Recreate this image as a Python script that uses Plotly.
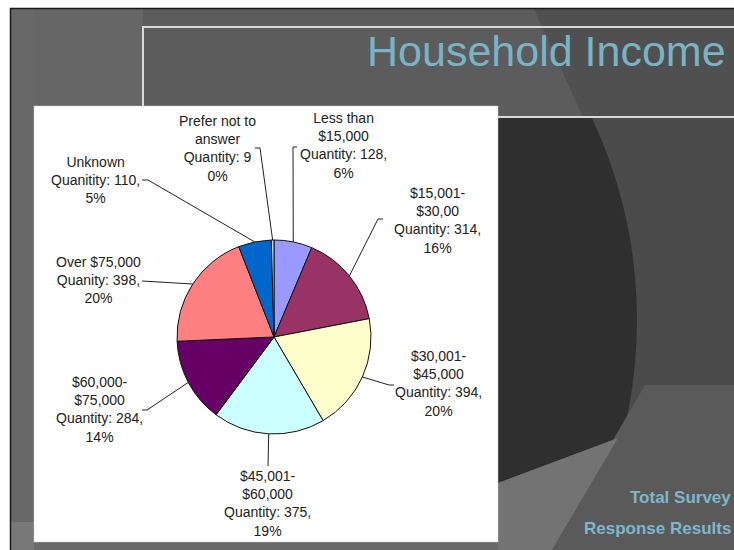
import math
import plotly.graph_objects as go

# ---------------- data ----------------
categories = [
    "Less than $15,000", "$15,001-$30,00", "$30,001-$45,000", "$45,001-$60,000",
    "$60,000-$75,000", "Over $75,000", "Unknown", "Prefer not to answer",
]
quantities = [128, 314, 394, 375, 284, 398, 110, 9]
percent_labels = ["6%", "16%", "20%", "19%", "14%", "20%", "5%", "0%"]
label_texts = [
    "Less than<br>$15,000<br>Quantity: 128,<br>6%",
    "$15,001-<br>$30,00<br>Quantity: 314,<br>16%",
    "$30,001-<br>$45,000<br>Quantity: 394,<br>20%",
    "$45,001-<br>$60,000<br>Quantity: 375,<br>19%",
    "$60,000-<br>$75,000<br>Quantity: 284,<br>14%",
    "Over $75,000<br>Quanity: 398,<br>20%",
    "Unknown<br>Quanitity: 110,<br>5%",
    "Prefer not to<br>answer<br>Quantity: 9<br>0%",
]
slice_colors = ["#9999ff", "#993366", "#ffffcc", "#ccffff",
                "#660066", "#ff8080", "#0066cc", "#ccccff"]
title_text = "Household Income"
footer_lines = ["Total Survey", "Response Results"]

# ---------------- layout constants (pixel space) ----------------
W, H = 734, 550
PIE_CX, PIE_CY, PIE_R = 274, 337, 97
FONT = "Liberation Sans, Arial, sans-serif"

# label block centres and leader anchor points (label side)
label_pos = [(343, 145), (437, 220), (438, 383), (267, 503),
             (99, 409), (98, 280), (95, 180), (217, 148)]
leader_anchor = [
    [(297, 147), (293, 147)],
    [(383, 219), (378, 219)],
    [(394, 385), (389, 385)],
    [(268, 466)],
    [(142, 410), (147, 410)],
    [(142, 281)],
    [(142, 180), (148, 180)],
    [(255, 148), (260, 148)],
]

fig = go.Figure()

# invisible pixel-space axes for background & leader lines
fig.add_trace(go.Scatter(x=[0, W], y=[0, H], mode="markers",
                         marker=dict(opacity=0), hoverinfo="skip", showlegend=False))

# leader lines: from label anchor to the middle of each slice's rim
total = sum(quantities)
cum = 0
for i, q in enumerate(quantities):
    theta = 2 * math.pi * (cum + q / 2) / total
    cum += q
    ex = PIE_CX + PIE_R * math.sin(theta)
    ey = PIE_CY - PIE_R * math.cos(theta)
    pts = leader_anchor[i] + [(ex, ey)]
    fig.add_trace(go.Scatter(x=[p[0] for p in pts], y=[p[1] for p in pts],
                             mode="lines", line=dict(color="#222222", width=1),
                             hoverinfo="skip", showlegend=False))

# pie
fig.add_trace(go.Pie(
    labels=categories, values=quantities, sort=False, direction="clockwise",
    rotation=0, textinfo="none", hoverinfo="skip", showlegend=False,
    marker=dict(colors=slice_colors, line=dict(color="#111111", width=1)),
    domain=dict(x=[(PIE_CX - PIE_R) / W, (PIE_CX + PIE_R) / W],
                y=[1 - (PIE_CY + PIE_R) / H, 1 - (PIE_CY - PIE_R) / H]),
))

# background shapes
def rect(x0, y0, x1, y1, fill, line=None, lw=0):
    return dict(type="rect", xref="x", yref="y", x0=x0, y0=y0, x1=x1, y1=y1,
                fillcolor=fill, line=dict(color=line or fill, width=lw), layer="below")

def poly(pts, fill):
    path = "M " + " L ".join(f"{x},{y}" for x, y in pts) + " Z"
    return dict(type="path", xref="x", yref="y", path=path, fillcolor=fill,
                line=dict(width=0), layer="below")

shapes = [
    rect(0, 0, 760, 570, "#4b4b4b"),
    dict(type="circle", xref="x", yref="y", x0=-313, y0=-155, x1=637, y1=795,
         fillcolor="#2f2f2f", line=dict(width=0), layer="below"),
    # lower cut of the dark disc
    poly([(498, 483), (613, 440), (645, 385), (760, 385), (760, 570), (498, 570)], "#5a5a5a"),
    # lighter hatched wedge
    poly([(498, 483), (618, 438), (540, 570), (498, 570)], "#737373"),
    # top band and left strip
    rect(0, 0, 760, 117, "#5c5c5c"),
    poly([(530, 0), (760, 0), (760, 117), (583, 117)], "#505050"),
    rect(0, 0, 143, 106, "#666666"),
    rect(0, 0, 34, 570, "#686868"),
    rect(0, 522, 34, 570, "#787878"),
    rect(34, 542, 498, 570, "#6a6a6a"),
    # white page margin and slide border
    rect(0, 0, 10, 570, "#ffffff"),
    rect(0, 0, 760, 8, "#ffffff"),
    dict(type="path", xref="x", yref="y", path="M 10.5,570 L 10.5,8.5 L 760,8.5",
         line=dict(color="#1a1a1a", width=1.5), layer="below"),
    # title frame
    dict(type="rect", xref="x", yref="y", x0=143, y0=27, x1=760, y1=117,
         fillcolor="rgba(0,0,0,0)", line=dict(color="#d9d9d9", width=2), layer="below"),
    # white chart panel
    rect(34, 106, 498, 542, "#ffffff", "#cfcfcf", 0.5),
]

annotations = []
for (x, y), t in zip(label_pos, label_texts):
    annotations.append(dict(x=x, y=y, xref="x", yref="y", text=t, showarrow=False,
                            xanchor="center", yanchor="middle", align="center",
                            font=dict(family=FONT, size=14, color="#222222")))
annotations.append(dict(x=365, y=51, xref="x", yref="y", text=title_text, showarrow=False,
                        xanchor="left", yanchor="middle",
                        font=dict(family=FONT, size=43, color="#78b4c8")))
for i, t in enumerate(footer_lines):
    annotations.append(dict(x=733, y=497 + 31 * i, xref="x", yref="y",
                            text=f"<b>{t}</b>", showarrow=False,
                            xanchor="right", yanchor="middle",
                            font=dict(family=FONT, size=17, color="#7fb6ca")))

fig.update_layout(
    width=W, height=H, autosize=False,
    margin=dict(l=0, r=0, t=0, b=0),
    paper_bgcolor="#ffffff", plot_bgcolor="rgba(0,0,0,0)",
    xaxis=dict(range=[0, W], visible=False, fixedrange=True, domain=[0, 1]),
    yaxis=dict(range=[H, 0], visible=False, fixedrange=True, domain=[0, 1]),
    shapes=shapes, annotations=annotations, showlegend=False,
)

fig.write_html(
    "out.html",
    config={"displayModeBar": False},
    post_script="document.body.style.margin='0';document.body.style.overflow='hidden';",
)
